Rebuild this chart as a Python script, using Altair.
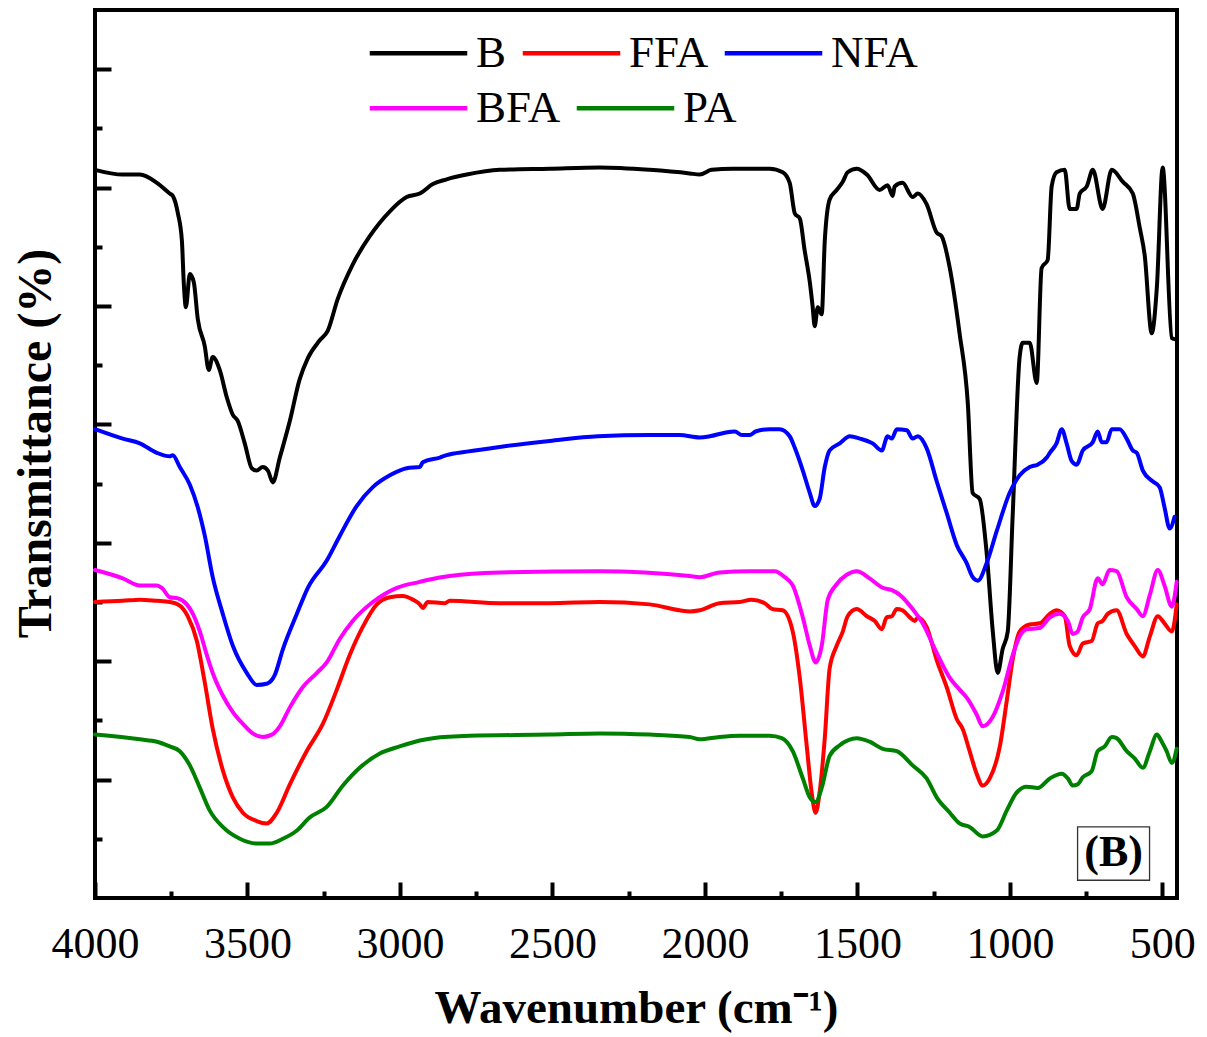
import altair as alt
import pandas as pd

# ---- data (wavenumber cm-1, transmittance a.u.) ----
B = [(4000,61.5),(3909,61.1),(3853,61.1),(3797,60.4),(3755,59.5),(3745,59.3),(3728,57.8),(3715,55.5),
     (3709,52.0),(3702,49.9),(3689,52.7),(3676,52.0),(3663,48.9),(3640,46.6),(3627,44.6),(3614,45.7),
     (3591,44.6),(3568,42.3),(3548,40.8),(3532,40.3),(3509,38.4),(3486,36.3),(3470,36.1),(3450,36.4),
     (3433,36.1),(3417,35.1),(3394,37.2),(3361,40.3),(3329,43.8),(3302,45.6),(3263,47.1),(3237,47.9),
     (3204,50.6),(3155,53.5),(3099,55.9),(3033,58.0),(2978,59.2),(2935,59.5),(2892,60.3),(2847,60.7),
     (2781,61.1),(2673,61.5),(2509,61.6),(2345,61.7),(2181,61.5),(2050,61.2),(2017,61.1),(1978,61.5),
     (1909,61.6),(1788,61.6),(1745,61.3),(1722,60.4),(1705,57.8),(1689,57.4),(1673,54.7),(1656,52.0),
     (1647,50.0),(1640,48.3),(1630,49.9),(1617,49.3),(1607,55.5),(1591,59.0),(1568,59.8),(1548,60.5),
     (1532,61.3),(1502,61.6),(1469,61.1),(1427,59.8),(1401,60.2),(1384,59.3),(1378,60.1),(1352,60.4),
     (1319,59.2),(1302,59.5),(1273,58.6),(1240,56.2),(1224,55.9),(1197,53.2),(1165,47.7),(1138,41.8),
     (1122,34.2),(1099,33.7),(1076,29.1),(1056,22.5),(1040,19.0),(1024,21.0),(1007,22.5),(991,32.2),
     (968,45.7),(958,46.9),(935,46.9),(912,43.5),(896,53.2),(876,53.9),(863,60.1),(847,61.3),
     (820,61.5),(804,58.2),(781,58.2),(771,59.5),(748,60.1),(728,61.5),(696,58.2),(666,61.5),
     (630,60.5),(597,59.5),(574,56.6),(558,54.3),(535,47.7),(518,51.6),(499,61.7),(469,47.3),(460,47.2)]

FFA = [(4000,25.0),(3909,25.1),(3853,25.2),(3797,25.1),(3755,25.0),(3722,24.7),(3696,23.8),(3666,21.7),
       (3640,18.2),(3614,14.3),(3581,10.8),(3548,8.5),(3515,7.2),(3470,6.5),(3437,6.3),(3404,7.2),
       (3361,9.6),(3306,12.4),(3253,14.7),(3207,17.6),(3165,20.5),(3122,22.9),(3076,24.8),(3033,25.4),
       (2991,25.5),(2958,25.2),(2935,24.8),(2925,24.5),(2909,25.0),(2853,24.9),(2837,25.1),(2673,24.9),
       (2509,24.9),(2345,25.0),(2181,24.8),(2083,24.3),(2050,24.2),(2017,24.3),(1952,24.9),(1886,25.0),
       (1847,25.2),(1804,24.9),(1778,24.4),(1745,24.3),(1712,22.5),(1689,18.6),(1666,12.8),(1650,8.9),
       (1637,7.2),(1624,8.9),(1607,13.5),(1591,19.4),(1568,21.3),(1548,22.5),(1532,23.8),(1502,24.4),
       (1469,23.8),(1443,23.4),(1420,22.7),(1404,23.7),(1387,23.8),(1371,24.4),(1352,24.3),(1328,23.7),
       (1312,23.4),(1302,23.7),(1273,22.9),(1240,20.1),(1207,17.8),(1174,15.1),(1155,14.3),(1132,12.4),
       (1109,10.5),(1089,9.5),(1066,10.1),(1033,12.8),(1010,16.7),(991,20.1),(968,22.5),(935,23.1),
       (902,23.2),(869,24.0),(847,24.3),(820,23.8),(804,21.3),(781,20.5),(761,21.5),(732,21.7),
       (712,23.2),(696,23.4),(679,24.0),(650,24.3),(617,22.3),(591,21.3),(564,20.4),(541,22.1),
       (515,23.8),(493,23.2),(469,22.5),(453,24.8)]

NFA = [(4000,39.6),(3909,38.8),(3853,38.4),(3797,37.6),(3755,37.3),(3745,37.4),(3722,36.4),(3689,34.9),
       (3663,33.0),(3640,30.6),(3614,27.1),(3581,24.0),(3548,21.3),(3502,19.0),(3470,18.0),(3437,18.1),
       (3411,18.8),(3384,21.0),(3338,24.0),(3302,26.2),(3240,28.5),(3197,30.6),(3142,33.1),(3089,34.7),
       (3033,35.7),(2978,36.3),(2935,36.4),(2925,36.8),(2869,37.2),(2847,37.4),(2781,37.7),(2673,38.1),
       (2509,38.6),(2351,39.0),(2181,39.1),(2083,39.1),(2017,38.9),(1984,39.0),(1935,39.3),(1902,39.4),
       (1879,39.1),(1853,39.1),(1834,39.4),(1788,39.6),(1755,39.6),(1722,39.0),(1705,38.0),(1679,36.1),
       (1656,34.2),(1640,33.1),(1624,33.7),(1607,36.4),(1591,37.8),(1558,38.4),(1525,39.0),(1492,38.8),
       (1450,38.4),(1420,37.8),(1401,39.0),(1387,38.8),(1371,39.6),(1338,39.5),(1319,38.8),(1302,39.0),
       (1273,38.0),(1240,35.2),(1207,32.5),(1174,29.8),(1142,28.3),(1122,27.1),(1105,26.8),(1076,28.3),
       (1043,31.0),(1001,34.2),(968,35.7),(935,36.4),(909,36.6),(879,37.2),(869,37.6),(847,38.4),
       (830,39.6),(814,38.4),(797,36.9),(781,36.6),(761,37.8),(728,38.5),(712,39.4),(699,38.5),
       (683,38.5),(666,39.6),(640,39.6),(617,38.8),(597,37.8),(584,37.6),(564,36.1),(532,35.2),
       (509,34.7),(493,33.0),(476,31.2),(460,32.2)]

BFA = [(4000,27.7),(3909,27.0),(3853,26.4),(3797,26.4),(3781,26.2),(3755,25.4),(3728,25.3),(3699,24.8),
       (3679,24.0),(3656,22.5),(3633,20.5),(3614,19.0),(3581,17.1),(3548,15.7),(3515,14.7),(3483,13.9),
       (3450,13.6),(3420,13.8),(3394,14.5),(3361,16.1),(3319,17.8),(3273,19.0),(3240,19.9),(3197,21.9),
       (3155,23.4),(3089,25.0),(3010,26.2),(2935,26.7),(2902,26.9),(2837,27.2),(2673,27.5),(2345,27.6),
       (2050,27.2),(2017,27.1),(1952,27.5),(1853,27.6),(1771,27.6),(1738,27.1),(1712,26.4),(1679,23.7),
       (1656,21.3),(1637,19.9),(1617,21.3),(1597,25.2),(1568,26.5),(1535,27.3),(1502,27.6),(1460,27.0),
       (1417,26.2),(1387,26.0),(1361,25.6),(1319,24.4),(1286,23.2),(1240,20.7),(1197,18.6),(1165,17.6),
       (1138,16.8),(1109,15.5),(1089,14.5),(1056,15.3),(1024,17.4),(991,20.5),(968,22.1),(945,22.7),
       (902,22.8),(869,23.7),(837,24.0),(810,23.4),(794,22.3),(778,22.5),(761,23.7),(738,24.4),
       (712,27.0),(696,26.5),(673,27.7),(650,27.6),(617,25.4),(584,24.4),(564,23.8),(541,25.6),
       (515,27.7),(493,26.4),(469,24.6),(453,26.7)]

PA = [(4000,13.8),(3853,13.4),(3797,13.2),(3755,12.8),(3722,12.4),(3689,11.2),(3656,9.3),(3624,7.4),
      (3581,6.0),(3525,5.0),(3470,4.6),(3427,4.6),(3384,5.0),(3338,5.7),(3296,6.8),(3240,7.7),
      (3187,9.5),(3132,11.0),(3066,12.2),(3001,12.8),(2935,13.3),(2892,13.5),(2771,13.7),(2509,13.8),
      (2345,13.9),(2181,13.8),(2050,13.6),(2017,13.4),(1952,13.6),(1886,13.7),(1788,13.7),(1748,13.5),
      (1712,12.4),(1679,10.1),(1656,8.5),(1637,8.1),(1617,9.3),(1591,12.0),(1558,12.9),(1502,13.5),
      (1460,13.2),(1417,12.6),(1371,12.4),(1319,11.2),(1273,10.1),(1240,8.5),(1197,7.2),(1165,6.3),
      (1132,6.0),(1089,5.2),(1043,5.7),(1010,7.4),(978,8.9),(945,9.4),(909,9.3),(869,10.1),
      (830,10.5),(810,10.1),(794,9.5),(778,9.6),(761,10.2),(732,10.7),(712,12.4),(689,12.8),
      (666,13.6),(650,13.5),(617,12.4),(591,11.8),(564,11.0),(541,12.4),(518,13.8),(502,13.2),
      (486,12.4),(469,11.4),(453,12.6)]

row1_names = ["B", "FFA", "NFA"]
row1_colors = ["#000000", "#FF0000", "#0000FF"]
row1_data = [B, FFA, NFA]
row2_names = ["BFA", "PA"]
row2_colors = ["#FF00FF", "#008000"]
row2_data = [BFA, PA]

x_major = [4000, 3500, 3000, 2500, 2000, 1500, 1000, 500]
x_minor = [3750, 3250, 2750, 2250, 1750, 1250, 750]
y_major = [10, 20, 30, 40, 50, 60, 70]
y_minor = [5, 15, 25, 35, 45, 55, 65]

panel_label = ["(B)"]
panel_label_pos = [(660, 3.8)]
panel_box = [(778, 542, 6.0, 1.5)]


def frame(names, data):
    rows = []
    for name, pts in zip(names, data):
        for w, t in pts:
            rows.append({"wavenumber": w, "T": t, "sample": name})
    return pd.DataFrame(rows)


df1 = frame(row1_names, row1_data)
df2 = frame(row2_names, row2_data)
df_all = pd.concat([df1, df2], ignore_index=True)

label_df = pd.DataFrame({"x": [p[0] for p in panel_label_pos],
                         "y": [p[1] for p in panel_label_pos],
                         "text": panel_label})
box_df = pd.DataFrame({"x1": [b[0] for b in panel_box], "x2": [b[1] for b in panel_box],
                       "y1": [b[2] for b in panel_box], "y2": [b[3] for b in panel_box]})

FONT = "Liberation Serif"
xscale = alt.Scale(domain=[452, 4000], reverse=True, nice=False, zero=False)
yscale = alt.Scale(domain=[0, 75], nice=False, zero=False)

LINE_SYMBOL = "M-2.5,0L2.5,0"


def legend(y):
    return alt.Legend(title=None, orient="none", legendX=275, legendY=y,
                      direction="horizontal", symbolType=LINE_SYMBOL, symbolSize=1521,
                      symbolStrokeWidth=4.5, symbolOffset=26, labelFont=FONT, labelFontSize=45,
                      labelColor="black", labelOffset=35, columnPadding=6, padding=0)


def line_layer(data, names, colors, leg, axes):
    if axes:
        xax = alt.Axis(values=x_major, orient="bottom", offset=-16, tickSize=16, tickWidth=4,
                       tickColor="black", domain=False, grid=False, labelFont=FONT,
                       labelFontSize=44, labelColor="black", labelPadding=24, labelFlush=False,
                       labelOverlap=False, labelBound=False, format="d",
                       title="Wavenumber (cm⁻¹)", titleFont=FONT, titleFontSize=47,
                       titleFontWeight="bold", titleColor="black", titleY=140,
                       titleBaseline="alphabetic")
        yax = alt.Axis(values=y_major, orient="left", offset=-16, tickSize=16, tickWidth=4,
                       tickColor="black", domain=False, grid=False, labels=False,
                       title="Transmittance (%)", titleFont=FONT, titleFontSize=48,
                       titleFontWeight="bold", titleColor="black", titleX=-61, titleY=433,
                       titleBaseline="alphabetic", titleAngle=270)
    else:
        xax = None
        yax = None
    return alt.Chart(data).mark_line(strokeWidth=4, strokeJoin="round", strokeCap="round",
                                     interpolate="monotone").encode(
        x=alt.X("wavenumber:Q", scale=xscale, axis=xax),
        y=alt.Y("T:Q", scale=yscale, axis=yax),
        order=alt.Order("wavenumber:Q", sort="descending"),
        color=alt.Color("sample:N", scale=alt.Scale(domain=names, range=colors), legend=leg),
    )


lines1 = line_layer(df1, row1_names, row1_colors, legend(20.5), True)
lines2 = line_layer(df2, row2_names, row2_colors, legend(75.5), False)

minor = alt.Chart(df_all).mark_point(opacity=0, size=1).encode(
    x=alt.X("wavenumber:Q", scale=xscale,
            axis=alt.Axis(values=x_minor, orient="bottom", offset=-7, tickSize=7, tickWidth=4,
                          tickColor="black", domain=False, grid=False, labels=False, title=None)),
    y=alt.Y("T:Q", scale=yscale,
            axis=alt.Axis(values=y_minor, orient="left", offset=-7, tickSize=7, tickWidth=4,
                          tickColor="black", domain=False, grid=False, labels=False, title=None)),
)

box = alt.Chart(box_df).mark_rect(filled=False, stroke="#333333", strokeWidth=1.3).encode(
    x=alt.X("x1:Q", scale=xscale, axis=None), x2="x2:Q",
    y=alt.Y("y1:Q", scale=yscale, axis=None), y2="y2:Q",
)

label = alt.Chart(label_df).mark_text(font=FONT, fontSize=44, fontWeight="bold",
                                      color="black", align="center", baseline="middle").encode(
    x=alt.X("x:Q", scale=xscale, axis=None),
    y=alt.Y("y:Q", scale=yscale, axis=None),
    text="text:N",
)

chart = alt.layer(lines1, lines2, minor, box, label).resolve_axis(
    x="independent", y="independent"
).resolve_scale(
    color="independent"
).properties(
    width=1082, height=888,
    autosize=alt.AutoSizeParams(type="none"),
    padding={"left": 95, "top": 10, "right": 30, "bottom": 139},
).configure_view(stroke="black", strokeWidth=4)

chart.save("out.html", embed_options={"renderer": "svg", "actions": False})
